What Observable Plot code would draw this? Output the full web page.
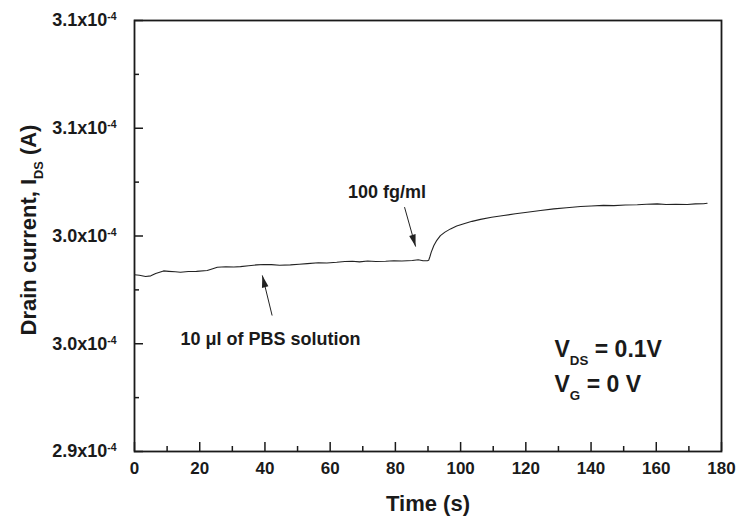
<!DOCTYPE html>
<html><head><meta charset="utf-8">
<script src="https://cdn.jsdelivr.net/npm/d3@7"></script>
<script src="https://cdn.jsdelivr.net/npm/@observablehq/plot@0.6"></script>
<style>body{margin:0;background:#fff} svg{display:block}</style>
</head><body><div id="chart"></div>
<script>
// Time (s)
const timeS = [0, 1.5, 3.4, 5, 6.5, 8.9, 10.5, 12.5, 14.1, 16.5, 19, 22.3, 24, 25.4, 28, 30.5, 32.5, 35, 37.5, 39.6,
  42, 44.5, 47.8, 50.5, 53, 56.4, 59, 62, 64.5, 66.8, 69, 71.5, 74, 77, 79.5, 82, 85.2, 87, 88.5, 89.8, 90.2,
  90.6, 91.0, 91.8, 92.7, 93.8, 95.2, 96.9, 98.8, 101.0, 103.5, 106.1, 109.5, 113.2, 116.8, 120.4, 124.5, 128.6,
  132.5, 136.8, 140, 143.8, 147, 150.5, 154.2, 157, 160.3, 163, 166, 169.5, 172, 174.5, 175.6];
// Drain current (x10^-4 A)
const currentE4 = [2.9820, 2.9818, 2.9812, 2.9815, 2.9826, 2.9838, 2.9836, 2.9834, 2.9832, 2.9835, 2.9836, 2.9840, 2.9848, 2.9855, 2.9857, 2.9856, 2.9858, 2.9862, 2.9866, 2.9868,
  2.9867, 2.9864, 2.9866, 2.9869, 2.9872, 2.9876, 2.9875, 2.9878, 2.9882, 2.9883, 2.9880, 2.9884, 2.9882, 2.9883, 2.9885, 2.9884, 2.9886, 2.9890, 2.9885, 2.9885, 2.9887,
  2.9905, 2.9925, 2.9956, 2.9980, 3.0002, 3.0018, 3.0033, 3.0046, 3.0057, 3.0068, 3.0077, 3.0087, 3.0095, 3.0103, 3.0110, 3.0118, 3.0126,
  3.0131, 3.0137, 3.0139, 3.0142, 3.0141, 3.0144, 3.0145, 3.0147, 3.0149, 3.0146, 3.0147, 3.0146, 3.0149, 3.0150, 3.0152];

const xMajorTicks = [0, 20, 40, 60, 80, 100, 120, 140, 160, 180];
const xMinorTicks = [10, 30, 50, 70, 90, 110, 130, 150, 170];
const yMajorTicks = [2.90, 2.95, 3.00, 3.05, 3.10];
const yMinorTicks = [2.925, 2.975, 3.025, 3.075];
const yTickLabels = ["2.9x10^{-4}", "3.0x10^{-4}", "3.0x10^{-4}", "3.1x10^{-4}", "3.1x10^{-4}"];

const xTitle = "Time (s)";
const yTitle = "Drain current, I_{DS} (A)";

const annotationTexts = ["100 fg/ml", "10 \u03bcl of PBS solution"];
const annotationX = [77.4, 41.7];
const annotationY = [3.0204, 2.9520];
const arrowX1 = [82.8, 42.2];
const arrowY1 = [3.0134, 2.9631];
const arrowX2 = [86.2, 39.2];
const arrowY2 = [2.9951, 2.9817];

const conditionTexts = ["V_{DS} = 0.1V", "V_{G} = 0 V"];
const conditionX = [128.8, 128.8];
const conditionY = [2.9475, 2.9311];

const series = timeS.map((t, i) => ({t, v: currentE4[i]}));
const annotations = annotationTexts.map((text, i) => ({text, x: annotationX[i], y: annotationY[i]}));
const arrows = arrowX1.map((x1, i) => ({x1, y1: arrowY1[i], x2: arrowX2[i], y2: arrowY2[i]}));
const conditions = conditionTexts.map((text, i) => ({text, x: conditionX[i], y: conditionY[i]}));

const W = 740, H = 524, mL = 134, mR = 19, mT = 20, mB = 73;
const innerW = W - mL - mR, innerH = H - mT - mB;
const ink = "#1a1a1a";

const svg = Plot.plot({
  width: W, height: H,
  marginLeft: mL, marginRight: mR, marginTop: mT, marginBottom: mB,
  x: {domain: [0, 180]},
  y: {domain: [2.9, 3.1]},
  style: {fontFamily: "'Liberation Sans', Arial, sans-serif", fontWeight: "bold", background: "#fff", color: ink},
  marks: [
    Plot.axisX({ticks: xMajorTicks, tickSize: 0, tickPadding: 10, fontSize: 17, fontWeight: "bold", label: null, tickFormat: d => String(d)}),
    Plot.axisY({ticks: yMajorTicks, tickSize: 0, tickPadding: 18, fontSize: 18, fontWeight: "bold", label: null,
      tickFormat: d => yTickLabels[yMajorTicks.indexOf(d)]}),
    Plot.tickX(xMajorTicks, {x: d => d, insetTop: innerH - 9, stroke: ink, strokeWidth: 1.5}),
    Plot.tickX(xMinorTicks, {x: d => d, insetTop: innerH - 5, stroke: ink, strokeWidth: 1.5}),
    Plot.tickY(yMajorTicks, {y: d => d, insetRight: innerW - 9, stroke: ink, strokeWidth: 1.5}),
    Plot.tickY(yMinorTicks, {y: d => d, insetRight: innerW - 5, stroke: ink, strokeWidth: 1.5}),
    Plot.frame({stroke: ink, strokeWidth: 1.8}),
    Plot.line(series, {x: "t", y: "v", stroke: "#222", strokeWidth: 1.1}),
    Plot.link(arrows, {x1: "x1", y1: "y1", x2: "x2", y2: "y2", stroke: "#222", strokeWidth: 1, markerEnd: "arrow"}),
    Plot.text(annotations, {x: "x", y: "y", text: "text", fontSize: 18, fontWeight: "bold", fill: ink, textAnchor: "middle", lineAnchor: "middle"}),
    Plot.text(conditions, {x: "x", y: "y", text: "text", fontSize: 23, fontWeight: "bold", fill: ink, textAnchor: "start", lineAnchor: "middle"}),
    Plot.text([xTitle], {frameAnchor: "bottom", dy: 52, text: d => d, fontSize: 22, fontWeight: "bold", fill: ink, textAnchor: "middle", lineAnchor: "middle"}),
    Plot.text([yTitle], {frameAnchor: "left", dx: -106, dy: -6, rotate: -90, text: d => d, fontSize: 22, fontWeight: "bold", fill: ink, textAnchor: "middle", lineAnchor: "middle"})
  ]
});

document.getElementById("chart").appendChild(svg);

// Rich text: _{...} subscript, ^{...} superscript
d3.select(svg).selectAll("text").each(function() {
  const el = this;
  const s = el.textContent;
  if (!/[_^]\{/.test(s)) return;
  const fs = parseFloat(getComputedStyle(el).fontSize) || 16;
  const re = /([_^])\{([^}]*)\}/g;
  const parts = [];
  let last = 0, m;
  while ((m = re.exec(s))) {
    if (m.index > last) parts.push({t: s.slice(last, m.index)});
    parts.push({t: m[2], k: m[1]});
    last = re.lastIndex;
  }
  if (last < s.length) parts.push({t: s.slice(last)});
  el.textContent = "";
  let shift = 0;
  for (const p of parts) {
    const ts = d3.select(el).append("tspan").text(p.t);
    const target = p.k === "_" ? fs * 0.36 : p.k === "^" ? -fs * 0.33 : 0;
    if (target !== shift) { ts.attr("dy", target - shift); shift = target; }
    if (p.k) ts.attr("font-size", fs * 0.58);
  }
});

// Filled triangular arrowheads
d3.select(svg).selectAll("marker").each(function() {
  const mk = d3.select(this);
  mk.attr("viewBox", "-13 -5 14 10").attr("markerWidth", 14).attr("markerHeight", 10)
    .attr("fill", "#222").attr("stroke", "none");
  mk.selectAll("path").attr("d", "M-12,-3.3L0,0L-12,3.3Z").attr("fill", "#222").attr("stroke", "none");
});
</script>
</body></html>
